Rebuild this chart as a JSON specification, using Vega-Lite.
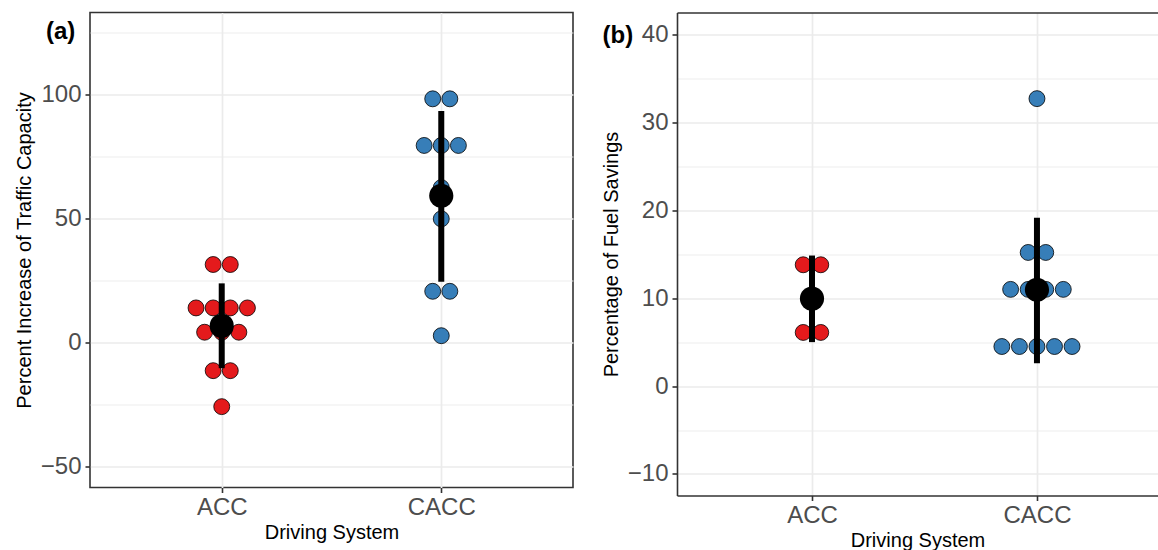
{
  "$schema": "https://vega.github.io/schema/vega-lite/v6.json",
  "padding": {"left": 13, "top": 11.5, "right": 0, "bottom": -1},
  "background": "white",
  "spacing": 27,
  "config": {
    "font": "Liberation Sans",
    "view": {"stroke": "#333333", "strokeWidth": 1.6},
    "axis": {
      "labelFont": "Liberation Sans", "labelFontSize": 24, "labelColor": "#4D4D4D",
      "titleFont": "Liberation Sans", "titleFontSize": 20, "titleColor": "#000000", "titleFontWeight": "normal",
      "tickColor": "#333333", "tickWidth": 1.6, "tickSize": 5,
      "domainColor": "#333333", "domainWidth": 1.6,
      "gridColor": "#EBEBEB", "gridWidth": 1.7
    }
  },
  "datasets": {
    "traffic": [
      {"system": "ACC", "value": 31.6}, {"system": "ACC", "value": 31.6},
      {"system": "ACC", "value": 14.1}, {"system": "ACC", "value": 14.1}, {"system": "ACC", "value": 14.1}, {"system": "ACC", "value": 14.1},
      {"system": "ACC", "value": 4.3}, {"system": "ACC", "value": 4.3}, {"system": "ACC", "value": 4.3},
      {"system": "ACC", "value": -11.2}, {"system": "ACC", "value": -11.2},
      {"system": "ACC", "value": -25.7},
      {"system": "CACC", "value": 98.4}, {"system": "CACC", "value": 98.4},
      {"system": "CACC", "value": 79.6}, {"system": "CACC", "value": 79.6}, {"system": "CACC", "value": 79.6},
      {"system": "CACC", "value": 62.6},
      {"system": "CACC", "value": 50.0},
      {"system": "CACC", "value": 20.8}, {"system": "CACC", "value": 20.8},
      {"system": "CACC", "value": 2.9}
    ],
    "trafficSummary": [
      {"system": "ACC", "mean": 6.85, "lo": -10.2, "hi": 24.0},
      {"system": "CACC", "mean": 59.3, "lo": 24.7, "hi": 93.5}
    ],
    "fuel": [
      {"system": "ACC", "value": 13.8}, {"system": "ACC", "value": 13.8},
      {"system": "ACC", "value": 6.1}, {"system": "ACC", "value": 6.1},
      {"system": "CACC", "value": 32.7},
      {"system": "CACC", "value": 15.2}, {"system": "CACC", "value": 15.2},
      {"system": "CACC", "value": 11.0}, {"system": "CACC", "value": 11.0}, {"system": "CACC", "value": 11.0}, {"system": "CACC", "value": 11.0},
      {"system": "CACC", "value": 4.5}, {"system": "CACC", "value": 4.5}, {"system": "CACC", "value": 4.5}, {"system": "CACC", "value": 4.5}, {"system": "CACC", "value": 4.5}
    ],
    "fuelSummary": [
      {"system": "ACC", "mean": 9.95, "lo": 5.0, "hi": 14.85},
      {"system": "CACC", "mean": 10.95, "lo": 2.6, "hi": 19.15}
    ]
  },
  "hconcat": [
    {
      "width": 483,
      "height": 475,
      "resolve": {"axis": {"x": "independent", "y": "independent"}},
      "layer": [
        {
          "data": {"name": "traffic"},
          "transform": [
            {"window": [{"op": "row_number", "as": "k"}], "groupby": ["system", "value"]},
            {"joinaggregate": [{"op": "count", "as": "n"}], "groupby": ["system", "value"]},
            {"calculate": "(datum.system === 'ACC' ? 1 : 2) + (datum.k - (datum.n + 1) / 2) * 0.078", "as": "xpos"}
          ],
          "mark": {"type": "circle", "size": 254, "stroke": "#000000", "strokeWidth": 0.8, "opacity": 1},
          "encoding": {
            "x": {"field": "xpos", "type": "quantitative", "scale": {"domain": [0.4, 2.6], "nice": false, "zero": false},
              "axis": {"values": [1, 2], "labelExpr": "datum.value == 1 ? 'ACC' : 'CACC'", "title": "Driving System", "domain": false, "grid": true, "labelPadding": 3, "titlePadding": 3}},
            "y": {"field": "value", "type": "quantitative", "scale": {"domain": [-58.3, 133.2], "nice": false, "zero": false},
              "axis": {"values": [-50, 0, 50, 100], "title": "Percent Increase of Traffic Capacity", "domain": false, "grid": true, "labelPadding": 4, "titlePadding": 6}},
            "color": {"field": "system", "type": "nominal", "scale": {"domain": ["ACC", "CACC"], "range": ["#E41A1C", "#377EB8"]}, "legend": null}
          }
        },
        {
          "data": {"name": "trafficSummary"},
          "transform": [{"calculate": "datum.system === 'ACC' ? 1 : 2", "as": "xpos"}],
          "mark": {"type": "rule", "strokeWidth": 6, "color": "#000000"},
          "encoding": {
            "x": {"field": "xpos", "type": "quantitative",
              "axis": {"orient": "top", "labels": false, "ticks": false, "grid": false, "domain": false, "title": "(a)", "titleX": -44.5, "titleY": 18.5, "titleAlign": "left", "titleBaseline": "middle", "titleFontSize": 24, "titleFontWeight": "bold", "titleAngle": 0}},
            "y": {"field": "lo", "type": "quantitative",
              "axis": {"orient": "right", "values": [-25, 25, 75, 125], "grid": true, "gridWidth": 0.9, "labels": false, "ticks": false, "domain": false, "title": null}},
            "y2": {"field": "hi"}
          }
        },
        {
          "data": {"name": "trafficSummary"},
          "transform": [{"calculate": "datum.system === 'ACC' ? 1 : 2", "as": "xpos"}],
          "mark": {"type": "circle", "size": 585, "color": "#000000", "opacity": 1},
          "encoding": {
            "x": {"field": "xpos", "type": "quantitative", "axis": null},
            "y": {"field": "mean", "type": "quantitative", "axis": null}
          }
        }
      ]
    },
    {
      "width": 481,
      "height": 483,
      "view": {"stroke": null},
      "resolve": {"axis": {"x": "independent", "y": "independent"}},
      "layer": [
        {
          "data": {"name": "fuel"},
          "transform": [
            {"window": [{"op": "row_number", "as": "k"}], "groupby": ["system", "value"]},
            {"joinaggregate": [{"op": "count", "as": "n"}], "groupby": ["system", "value"]},
            {"calculate": "(datum.system === 'ACC' ? 1 : 2) + (datum.k - (datum.n + 1) / 2) * 0.078", "as": "xpos"}
          ],
          "mark": {"type": "circle", "size": 254, "stroke": "#000000", "strokeWidth": 0.8, "opacity": 1},
          "encoding": {
            "x": {"field": "xpos", "type": "quantitative", "scale": {"domain": [0.4, 2.538], "nice": false, "zero": false},
              "axis": {"values": [1, 2], "labelExpr": "datum.value == 1 ? 'ACC' : 'CACC'", "title": "Driving System", "domain": true, "grid": true, "labelPadding": 3, "titlePadding": 3}},
            "y": {"field": "value", "type": "quantitative", "scale": {"domain": [-12.45, 42.5], "nice": false, "zero": false},
              "axis": {"values": [-10, 0, 10, 20, 30, 40], "title": "Percentage of Fuel Savings", "domain": true, "grid": true, "labelPadding": 4, "titlePadding": 6}},
            "color": {"field": "system", "type": "nominal", "scale": {"domain": ["ACC", "CACC"], "range": ["#E41A1C", "#377EB8"]}, "legend": null}
          }
        },
        {
          "data": {"name": "fuelSummary"},
          "transform": [{"calculate": "datum.system === 'ACC' ? 1 : 2", "as": "xpos"}],
          "mark": {"type": "rule", "strokeWidth": 6, "color": "#000000"},
          "encoding": {
            "x": {"field": "xpos", "type": "quantitative",
              "axis": {"orient": "top", "labels": false, "ticks": false, "grid": false, "domain": true, "title": "(b)", "titleX": -75, "titleY": 23, "titleAlign": "left", "titleBaseline": "middle", "titleFontSize": 24, "titleFontWeight": "bold", "titleAngle": 0}},
            "y": {"field": "lo", "type": "quantitative",
              "axis": {"orient": "right", "values": [-5, 5, 15, 25, 35], "grid": true, "gridWidth": 0.9, "labels": false, "ticks": false, "domain": false, "title": null}},
            "y2": {"field": "hi"}
          }
        },
        {
          "data": {"name": "fuelSummary"},
          "transform": [{"calculate": "datum.system === 'ACC' ? 1 : 2", "as": "xpos"}],
          "mark": {"type": "circle", "size": 585, "color": "#000000", "opacity": 1},
          "encoding": {
            "x": {"field": "xpos", "type": "quantitative", "axis": null},
            "y": {"field": "mean", "type": "quantitative", "axis": null}
          }
        }
      ]
    }
  ]
}
